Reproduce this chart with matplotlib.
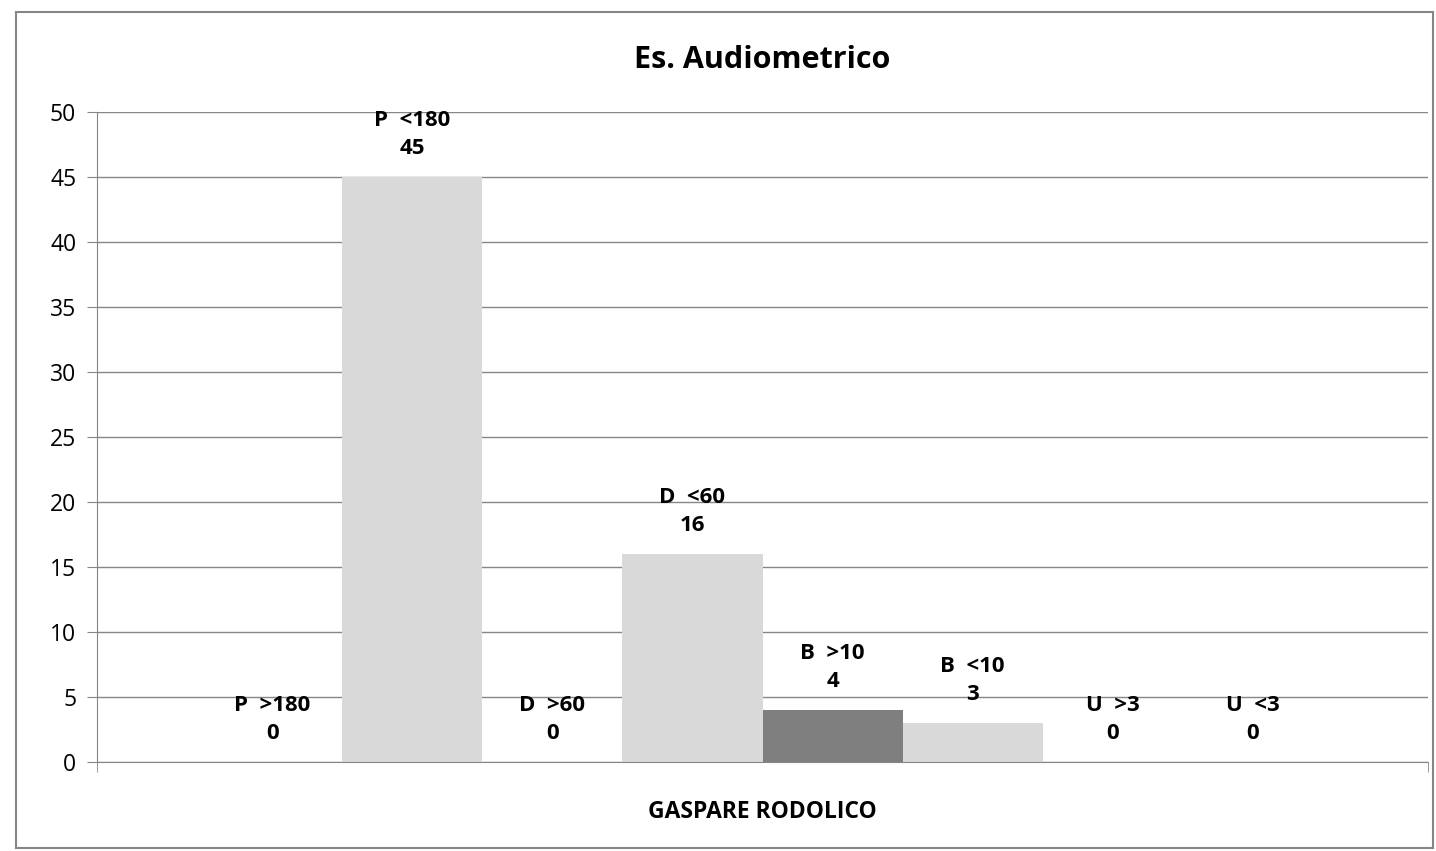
import matplotlib.pyplot as plt
from matplotlib.patches import Rectangle

# dati del grafico
categoria = 'GASPARE RODOLICO'
serie = ['P  >180', 'P  <180', 'D  >60', 'D  <60', 'B  >10', 'B  <10', 'U  >3', 'U  <3']
valori = [0, 45, 0, 16, 4, 3, 0, 0]
colori = ['#D9D9D9', '#D9D9D9', '#D9D9D9', '#D9D9D9', '#7F7F7F', '#D9D9D9', '#D9D9D9', '#D9D9D9']

plt.rcParams['font.family'] = ['Open Sans', 'DejaVu Sans']

fig = plt.figure(figsize=(14.36, 8.51), dpi=100)
ax = fig.add_axes([97 / 1436, 1 - 762 / 851, 1331 / 1436, 650 / 851])

# cornice esterna del grafico
fig.patches.append(Rectangle((16 / 1436, 3 / 851), 1417 / 1436, 836 / 851,
                             transform=fig.transFigure, fill=False,
                             edgecolor='#868686', linewidth=1.5))

n = len(serie)
larghezza = 0.8415 / n
inizio = -0.8415 / 2
for i, (nome, v, c) in enumerate(zip(serie, valori, colori)):
    x = inizio + larghezza * (i + 0.5)
    ax.bar(x, v, width=larghezza, color=c, zorder=2)
    ax.annotate(f'{nome}\n{v}', (x, v), xytext=(0, 13), textcoords='offset points',
                ha='center', va='bottom', fontsize=16, fontweight='bold',
                linespacing=1.45, zorder=3)

ax.set_xlim(-0.5, 0.5)
ax.set_ylim(0, 50)
ax.set_yticks(range(0, 51, 5))
ax.set_xticks([0])
ax.set_xticklabels([categoria], fontsize=16.5, fontweight='bold')
# tacche ai bordi della categoria
ax.set_xticks([-0.5, 0.5], minor=True)
ax.tick_params(axis='x', which='major', length=0, pad=27)
ax.tick_params(axis='x', which='minor', length=7, color='#868686')
ax.tick_params(axis='y', length=7, color='#868686', labelsize=16.5, pad=8)
ax.grid(axis='y', color='#868686', linewidth=1, zorder=0)
for s in ['top', 'right']:
    ax.spines[s].set_visible(False)
for s in ['left', 'bottom']:
    ax.spines[s].set_color('#868686')
ax.set_title('Es. Audiometrico', fontsize=22, fontweight='bold', pad=32)

fig.savefig('out.png', dpi=100)
